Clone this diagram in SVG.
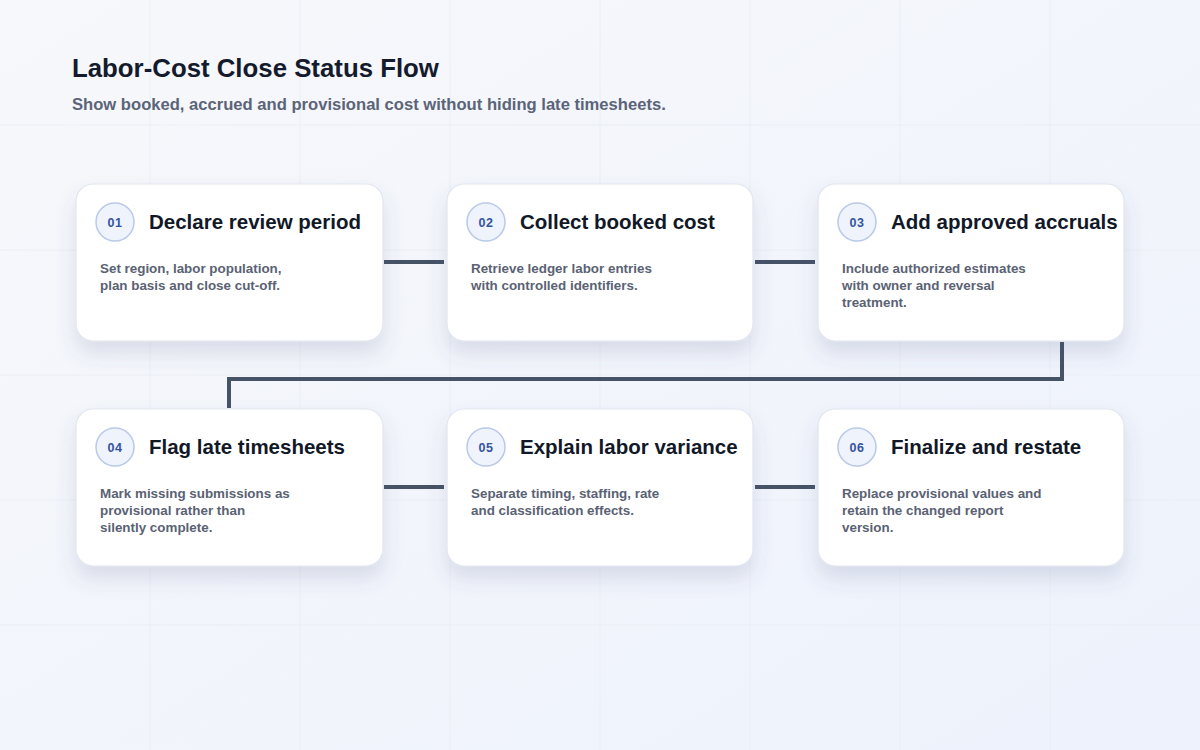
<svg xmlns="http://www.w3.org/2000/svg" width="1200" height="750" viewBox="0 0 1200 750">
  <defs>
    <linearGradient id="bg" x1="0" y1="0" x2="1" y2="1">
      <stop offset="0" stop-color="#f7f8fb"/>
      <stop offset="1" stop-color="#edf2fc"/>
    </linearGradient>
    <filter id="shadow" x="-20%" y="-20%" width="140%" height="160%">
      <feDropShadow dx="0" dy="12" stdDeviation="10" flood-color="#4a5a88" flood-opacity="0.16"/>
    </filter>
    <style>
      .grid { stroke: #eaeef5; stroke-width: 1; }
      .card { fill: #ffffff; stroke: #e1e5ee; stroke-width: 1.2; filter: url(#shadow); }
      .badge { fill: #eef3fc; stroke: #b9c9e8; stroke-width: 1.5; }
      .num { font-family: "Liberation Sans", Arial, sans-serif; font-size: 12.5px; font-weight: 700; fill: #3553a0; text-anchor: middle; letter-spacing: 0.5px; }
      .title { font-family: "Liberation Sans", Arial, sans-serif; font-size: 20.5px; font-weight: 700; fill: #111827; }
      .desc { font-family: "Liberation Sans", Arial, sans-serif; font-size: 13.4px; font-weight: 700; fill: #5a6274; }
      .conn { fill: none; stroke: #465266; stroke-width: 4; stroke-linecap: butt; stroke-linejoin: miter; }
      .h1 { font-family: "Liberation Sans", Arial, sans-serif; font-size: 25.8px; font-weight: 700; fill: #141b2d; }
      .sub { font-family: "Liberation Sans", Arial, sans-serif; font-size: 16.6px; font-weight: 700; fill: #5b6478; }
    </style>
  </defs>
  <rect x="0" y="0" width="1200" height="750" fill="url(#bg)"/>
  <g id="grid">
    <line class="grid" x1="150" y1="0" x2="150" y2="750"/>
    <line class="grid" x1="300" y1="0" x2="300" y2="750"/>
    <line class="grid" x1="450" y1="0" x2="450" y2="750"/>
    <line class="grid" x1="600" y1="0" x2="600" y2="750"/>
    <line class="grid" x1="750" y1="0" x2="750" y2="750"/>
    <line class="grid" x1="900" y1="0" x2="900" y2="750"/>
    <line class="grid" x1="1050" y1="0" x2="1050" y2="750"/>
    <line class="grid" x1="0" y1="125" x2="1200" y2="125"/>
    <line class="grid" x1="0" y1="250" x2="1200" y2="250"/>
    <line class="grid" x1="0" y1="375" x2="1200" y2="375"/>
    <line class="grid" x1="0" y1="500" x2="1200" y2="500"/>
    <line class="grid" x1="0" y1="625" x2="1200" y2="625"/>
  </g>
  <g id="header">
    <text class="h1" x="72" y="77">Labor-Cost Close Status Flow</text>
    <text class="sub" x="72" y="110">Show booked, accrued and provisional cost without hiding late timesheets.</text>
  </g>
  <g id="connectors">
    <path class="conn" d="M384 262 H444"/>
    <path class="conn" d="M755 262 H815"/>
    <path class="conn" d="M1062 342 V379 H229 V408"/>
    <path class="conn" d="M384 487 H444"/>
    <path class="conn" d="M755 487 H815"/>
  </g>
  <g id="node1">
    <rect class="card" x="76" y="184" width="307" height="157" rx="17"/>
    <circle class="badge" cx="115" cy="222" r="19"/>
    <text class="num" x="115" y="226.5">01</text>
    <text class="title" x="149" y="229">Declare review period</text>
    <text class="desc" x="100" y="273">Set region, labor population,</text>
    <text class="desc" x="100" y="290">plan basis and close cut-off.</text>
  </g>
  <g id="node2">
    <rect class="card" x="447" y="184" width="306" height="157" rx="17"/>
    <circle class="badge" cx="486" cy="222" r="19"/>
    <text class="num" x="486" y="226.5">02</text>
    <text class="title" x="520" y="229">Collect booked cost</text>
    <text class="desc" x="471" y="273">Retrieve ledger labor entries</text>
    <text class="desc" x="471" y="290">with controlled identifiers.</text>
  </g>
  <g id="node3">
    <rect class="card" x="818" y="184" width="306" height="157" rx="17"/>
    <circle class="badge" cx="857" cy="222" r="19"/>
    <text class="num" x="857" y="226.5">03</text>
    <text class="title" x="891" y="229">Add approved accruals</text>
    <text class="desc" x="842" y="273">Include authorized estimates</text>
    <text class="desc" x="842" y="290">with owner and reversal</text>
    <text class="desc" x="842" y="307">treatment.</text>
  </g>
  <g id="node4">
    <rect class="card" x="76" y="409" width="307" height="157" rx="17"/>
    <circle class="badge" cx="115" cy="447" r="19"/>
    <text class="num" x="115" y="451.5">04</text>
    <text class="title" x="149" y="454">Flag late timesheets</text>
    <text class="desc" x="100" y="498">Mark missing submissions as</text>
    <text class="desc" x="100" y="515">provisional rather than</text>
    <text class="desc" x="100" y="532">silently complete.</text>
  </g>
  <g id="node5">
    <rect class="card" x="447" y="409" width="306" height="157" rx="17"/>
    <circle class="badge" cx="486" cy="447" r="19"/>
    <text class="num" x="486" y="451.5">05</text>
    <text class="title" x="520" y="454">Explain labor variance</text>
    <text class="desc" x="471" y="498">Separate timing, staffing, rate</text>
    <text class="desc" x="471" y="515">and classification effects.</text>
  </g>
  <g id="node6">
    <rect class="card" x="818" y="409" width="306" height="157" rx="17"/>
    <circle class="badge" cx="857" cy="447" r="19"/>
    <text class="num" x="857" y="451.5">06</text>
    <text class="title" x="891" y="454">Finalize and restate</text>
    <text class="desc" x="842" y="498">Replace provisional values and</text>
    <text class="desc" x="842" y="515">retain the changed report</text>
    <text class="desc" x="842" y="532">version.</text>
  </g>
</svg>
